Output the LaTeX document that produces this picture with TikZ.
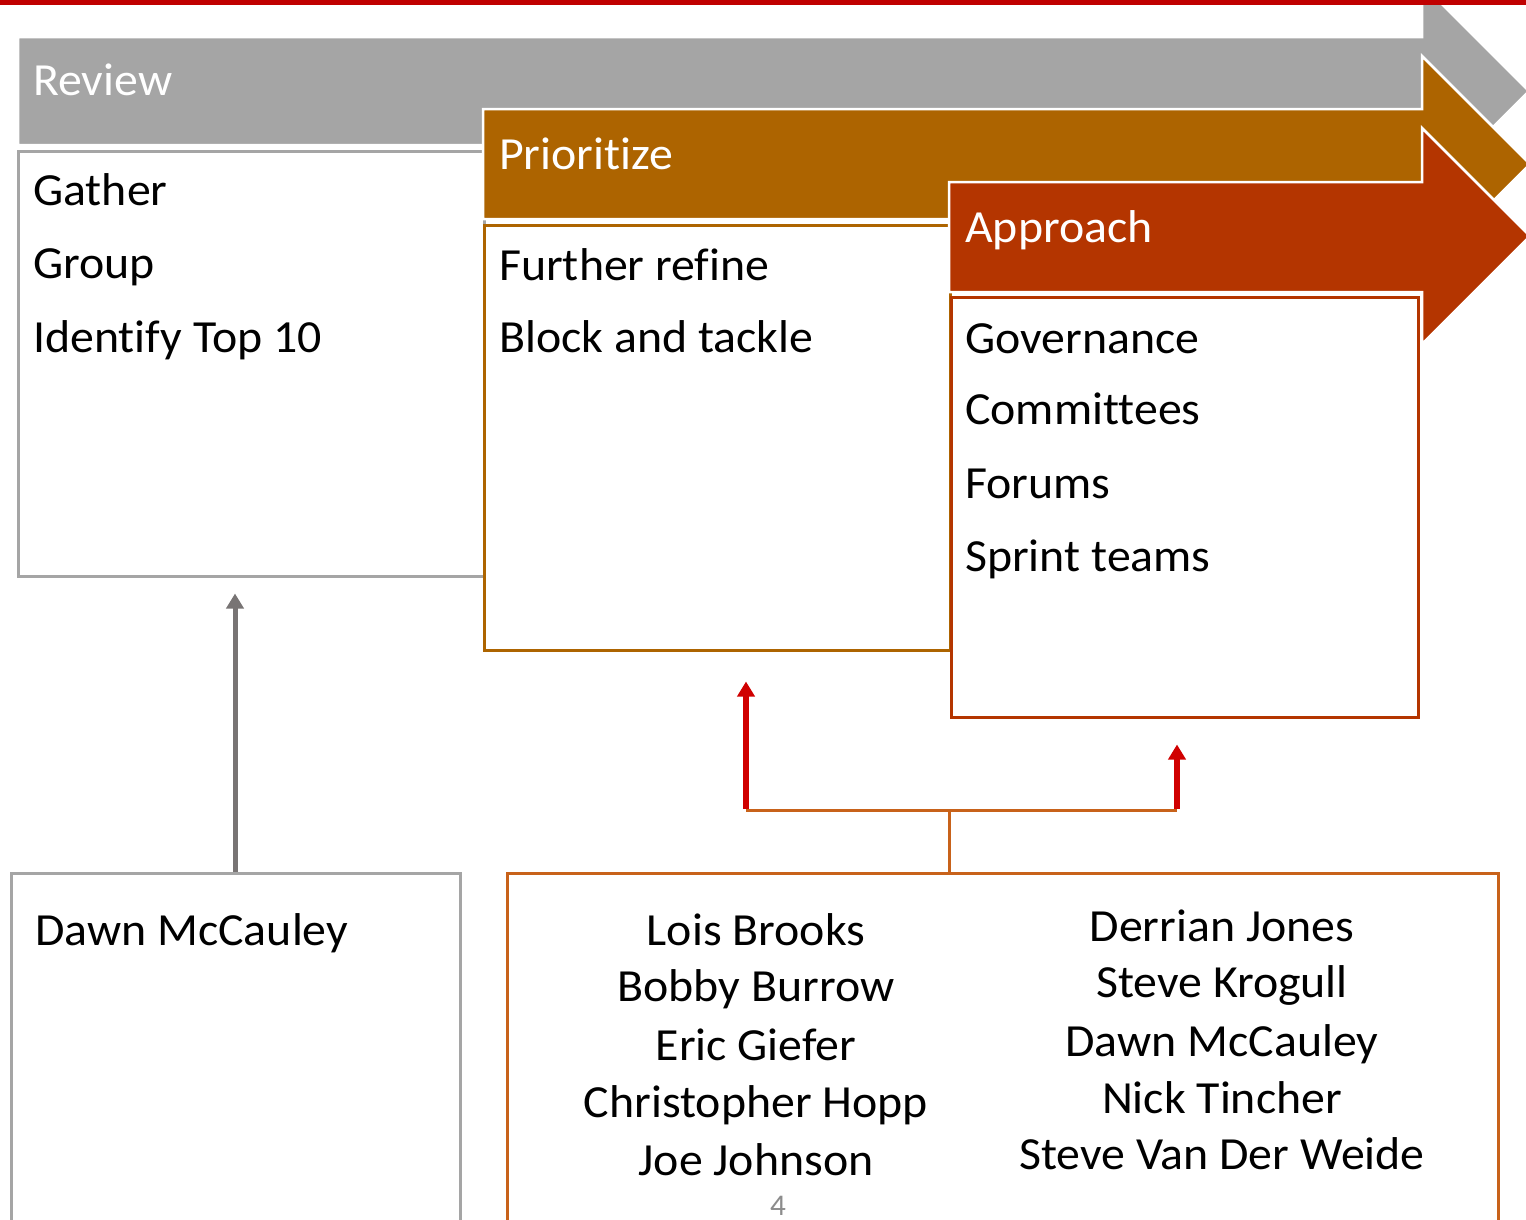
\documentclass[tikz,border=0pt]{standalone}
\usepackage{fontspec}
\setmainfont{Carlito}[FakeStretch=1.04, Ligatures=NoCommon]
\usetikzlibrary{arrows.meta}

\definecolor{reviewgrey}{HTML}{A5A5A5}
\definecolor{prioritybrown}{HTML}{AD6400}
\definecolor{approachrust}{HTML}{B43500}
\definecolor{teamorange}{HTML}{C8621A}
\definecolor{linkgrey}{HTML}{787474}
\definecolor{linkred}{HTML}{D00000}
\definecolor{toprule}{HTML}{C00000}
\definecolor{pagenum}{HTML}{8C8C8C}

\tikzset{
  stagearrow/.style={draw=white, line width=2.5pt, line join=miter},
  stagebox/.style={draw, rectangle, fill=white, line width=2.5pt, inner sep=0pt, anchor=north west},
  titletext/.style={text=white, inner sep=0pt, anchor=base west, font=\fontsize{46}{55}\selectfont},
  itemtext/.style={text=black, inner sep=0pt, anchor=base west, font=\fontsize{46}{55}\selectfont},
  nametext/.style={text=black, inner sep=0pt, anchor=base, font=\fontsize{46}{55}\selectfont},
  greylink/.style={draw=linkgrey, line width=5pt, -{Triangle[length=15pt,width=17pt]}},
  redlink/.style={draw=linkred, line width=5.5pt, -{Triangle[length=15pt,width=17pt]}},
  bracketline/.style={draw=teamorange, line width=3pt}
}

\begin{document}
\begin{tikzpicture}[x=1pt,y=-1pt]
  \useasboundingbox (0,0) rectangle (1526,1219);
  \clip (0,0) rectangle (1526,1219);

  % Review stage
  \fill[reviewgrey, stagearrow] (18,37) -- (1422,37) -- (1422,-16) -- (1529,91)
      -- (1422,198) -- (1422,145) -- (18,145) -- cycle;
  \node[titletext] (reviewtitle) at (33,95) {Review};
  \node[stagebox, draw=reviewgrey, minimum width=466pt, minimum height=425pt] (reviewbox) at (17,150) {};

  % Prioritize stage
  \fill[prioritybrown, stagearrow] (483,109) -- (1422,109) -- (1422,56) -- (1530,164)
      -- (1422,272) -- (1422,219) -- (483,219) -- cycle;
  \node[titletext] (prioritizetitle) at (499,169) {Prioritize};
  \node[stagebox, draw=prioritybrown, minimum width=466pt, minimum height=425pt] (prioritizebox) at (483,224) {};

  % Approach stage
  \fill[approachrust, stagearrow] (949,182) -- (1422,182) -- (1422,128) -- (1530,236)
      -- (1422,344) -- (1422,292) -- (949,292) -- cycle;
  \node[titletext] (approachtitle) at (965,242) {Approach};
  \node[stagebox, draw=approachrust, minimum width=467pt, minimum height=420pt] (approachbox) at (950,296) {};

  % stage contents
  \node[itemtext] (gather)   at (33,205) {Gather};
  \node[itemtext] (group)    at (33,278) {Group};
  \node[itemtext] (topten)   at (33,352) {Identify Top 10};
  \node[itemtext] (refine)   at (499,280) {Further refine};
  \node[itemtext] (block)    at (499,352) {Block and tackle};
  \node[itemtext] (govern)   at (965,353) {Governance};
  \node[itemtext] (committ)  at (965,424) {Committees};
  \node[itemtext] (forums)   at (965,498) {Forums};
  \node[itemtext] (sprint)   at (965,571) {Sprint teams};

  % people
  \node[stagebox, draw=reviewgrey, line width=3pt, minimum width=449pt, minimum height=380pt] (leadbox) at (10,872) {};
  \node[itemtext] (leadname) at (35,945) {Dawn McCauley};

  \node[stagebox, draw=teamorange, line width=3pt, minimum width=991pt, minimum height=380pt] (teambox) at (506,872) {};
  \node[nametext] (n1) at (756,945)  {Lois Brooks};
  \node[nametext] (n2) at (756,1001) {Bobby Burrow};
  \node[nametext] (n3) at (756,1060) {Eric Giefer};
  \node[nametext] (n4) at (756,1117) {Christopher Hopp};
  \node[nametext] (n5) at (756,1175) {Joe Johnson};
  \node[nametext] (m1) at (1222,941)  {Derrian Jones};
  \node[nametext] (m2) at (1222,997)  {Steve Krogull};
  \node[nametext] (m3) at (1222,1056) {Dawn McCauley};
  \node[nametext] (m4) at (1222,1113) {Nick Tincher};
  \node[nametext] (m5) at (1222,1169) {Steve Van Der Weide};

  \node[text=pagenum, font=\fontsize{30}{34}\selectfont, inner sep=0pt, anchor=base] (pageno) at (778,1215) {4};

  % connectors
  \draw[greylink, shorten >=16pt] (leadbox.north -| 235,0) -- (reviewbox.south -| 235,0);

  \coordinate (split) at (949,810);
  \coordinate (leftfoot) at (746,810);
  \coordinate (rightfoot) at (1177,810);
  \draw[bracketline] (split |- teambox.north) -- (split);
  \draw[bracketline] (leftfoot) -- (rightfoot);
  \draw[redlink, shorten >=30pt] ([yshift=1.5pt]leftfoot) -- (leftfoot |- prioritizebox.south);
  \draw[redlink, shorten >=26pt] ([yshift=1.5pt]rightfoot) -- (rightfoot |- approachbox.south);

  % top rule
  \fill[toprule] (0,0) rectangle (1526,4.5);
\end{tikzpicture}
\end{document}
